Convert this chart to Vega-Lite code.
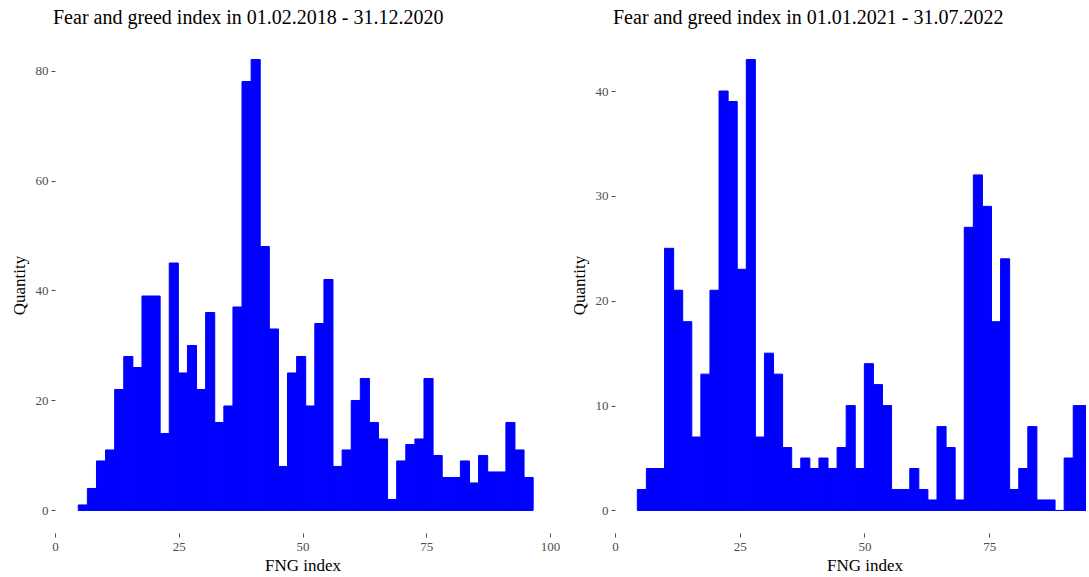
{
  "$schema": "https://vega.github.io/schema/vega-lite/v6.json",
  "background": "white",
  "padding": {"left": 10, "top": 8, "right": 0, "bottom": 0},
  "bounds": "flush",
  "spacing": 65,
  "config": {
    "view": {"stroke": null},
    "font": "Liberation Serif",
    "axis": {
      "domain": false,
      "grid": false,
      "ticks": true,
      "tickColor": "#4d4d4d",
      "tickSize": 4,
      "tickWidth": 1,
      "labelColor": "#4d4d4d",
      "labelFont": "Liberation Serif",
      "labelFontSize": 13,
      "labelFlush": false,
      "labelPadding": 3,
      "titleFont": "Liberation Serif",
      "titleFontSize": 17,
      "titleFontWeight": "normal",
      "titleColor": "black"
    },
    "axisY": {"titlePadding": 7},
    "title": {
      "font": "Liberation Serif",
      "fontSize": 20,
      "fontWeight": "normal",
      "color": "black",
      "anchor": "start",
      "frame": "group",
      "offset": 9,
      "dx": -2
    }
  },
  "datasets": {
    "early": [
      {"lo": 4.70, "hi": 6.54, "n": 1},
      {"lo": 6.54, "hi": 8.38, "n": 4},
      {"lo": 8.38, "hi": 10.21, "n": 9},
      {"lo": 10.21, "hi": 12.05, "n": 11},
      {"lo": 12.05, "hi": 13.89, "n": 22},
      {"lo": 13.89, "hi": 15.73, "n": 28},
      {"lo": 15.73, "hi": 17.57, "n": 26},
      {"lo": 17.57, "hi": 19.40, "n": 39},
      {"lo": 19.40, "hi": 21.24, "n": 39},
      {"lo": 21.24, "hi": 23.08, "n": 14},
      {"lo": 23.08, "hi": 24.92, "n": 45},
      {"lo": 24.92, "hi": 26.76, "n": 25},
      {"lo": 26.76, "hi": 28.59, "n": 30},
      {"lo": 28.59, "hi": 30.43, "n": 22},
      {"lo": 30.43, "hi": 32.27, "n": 36},
      {"lo": 32.27, "hi": 34.11, "n": 16},
      {"lo": 34.11, "hi": 35.95, "n": 19},
      {"lo": 35.95, "hi": 37.78, "n": 37},
      {"lo": 37.78, "hi": 39.62, "n": 78},
      {"lo": 39.62, "hi": 41.46, "n": 82},
      {"lo": 41.46, "hi": 43.30, "n": 48},
      {"lo": 43.30, "hi": 45.14, "n": 33},
      {"lo": 45.14, "hi": 46.97, "n": 8},
      {"lo": 46.97, "hi": 48.81, "n": 25},
      {"lo": 48.81, "hi": 50.65, "n": 28},
      {"lo": 50.65, "hi": 52.49, "n": 19},
      {"lo": 52.49, "hi": 54.33, "n": 34},
      {"lo": 54.33, "hi": 56.16, "n": 42},
      {"lo": 56.16, "hi": 58.00, "n": 8},
      {"lo": 58.00, "hi": 59.84, "n": 11},
      {"lo": 59.84, "hi": 61.68, "n": 20},
      {"lo": 61.68, "hi": 63.52, "n": 24},
      {"lo": 63.52, "hi": 65.35, "n": 16},
      {"lo": 65.35, "hi": 67.19, "n": 13},
      {"lo": 67.19, "hi": 69.03, "n": 2},
      {"lo": 69.03, "hi": 70.87, "n": 9},
      {"lo": 70.87, "hi": 72.71, "n": 12},
      {"lo": 72.71, "hi": 74.54, "n": 13},
      {"lo": 74.54, "hi": 76.38, "n": 24},
      {"lo": 76.38, "hi": 78.22, "n": 10},
      {"lo": 78.22, "hi": 80.06, "n": 6},
      {"lo": 80.06, "hi": 81.90, "n": 6},
      {"lo": 81.90, "hi": 83.73, "n": 9},
      {"lo": 83.73, "hi": 85.57, "n": 5},
      {"lo": 85.57, "hi": 87.41, "n": 10},
      {"lo": 87.41, "hi": 89.25, "n": 7},
      {"lo": 89.25, "hi": 91.09, "n": 7},
      {"lo": 91.09, "hi": 92.92, "n": 16},
      {"lo": 92.92, "hi": 94.76, "n": 11},
      {"lo": 94.76, "hi": 96.60, "n": 6}
    ],
    "late": [
      {"lo": 4.47, "hi": 6.29, "n": 2},
      {"lo": 6.29, "hi": 8.11, "n": 4},
      {"lo": 8.11, "hi": 9.93, "n": 4},
      {"lo": 9.93, "hi": 11.75, "n": 25},
      {"lo": 11.75, "hi": 13.57, "n": 21},
      {"lo": 13.57, "hi": 15.39, "n": 18},
      {"lo": 15.39, "hi": 17.21, "n": 7},
      {"lo": 17.21, "hi": 19.03, "n": 13},
      {"lo": 19.03, "hi": 20.85, "n": 21},
      {"lo": 20.85, "hi": 22.67, "n": 40},
      {"lo": 22.67, "hi": 24.49, "n": 39},
      {"lo": 24.49, "hi": 26.31, "n": 23},
      {"lo": 26.31, "hi": 28.13, "n": 43},
      {"lo": 28.13, "hi": 29.95, "n": 7},
      {"lo": 29.95, "hi": 31.77, "n": 15},
      {"lo": 31.77, "hi": 33.59, "n": 13},
      {"lo": 33.59, "hi": 35.41, "n": 6},
      {"lo": 35.41, "hi": 37.23, "n": 4},
      {"lo": 37.23, "hi": 39.05, "n": 5},
      {"lo": 39.05, "hi": 40.87, "n": 4},
      {"lo": 40.87, "hi": 42.69, "n": 5},
      {"lo": 42.69, "hi": 44.51, "n": 4},
      {"lo": 44.51, "hi": 46.33, "n": 6},
      {"lo": 46.33, "hi": 48.15, "n": 10},
      {"lo": 48.15, "hi": 49.97, "n": 4},
      {"lo": 49.97, "hi": 51.79, "n": 14},
      {"lo": 51.79, "hi": 53.61, "n": 12},
      {"lo": 53.61, "hi": 55.43, "n": 10},
      {"lo": 55.43, "hi": 57.25, "n": 2},
      {"lo": 57.25, "hi": 59.07, "n": 2},
      {"lo": 59.07, "hi": 60.89, "n": 4},
      {"lo": 60.89, "hi": 62.71, "n": 2},
      {"lo": 62.71, "hi": 64.53, "n": 1},
      {"lo": 64.53, "hi": 66.35, "n": 8},
      {"lo": 66.35, "hi": 68.17, "n": 6},
      {"lo": 68.17, "hi": 69.99, "n": 1},
      {"lo": 69.99, "hi": 71.81, "n": 27},
      {"lo": 71.81, "hi": 73.63, "n": 32},
      {"lo": 73.63, "hi": 75.45, "n": 29},
      {"lo": 75.45, "hi": 77.27, "n": 18},
      {"lo": 77.27, "hi": 79.09, "n": 24},
      {"lo": 79.09, "hi": 80.91, "n": 2},
      {"lo": 80.91, "hi": 82.73, "n": 4},
      {"lo": 82.73, "hi": 84.55, "n": 8},
      {"lo": 84.55, "hi": 86.37, "n": 1},
      {"lo": 86.37, "hi": 88.19, "n": 1},
      {"lo": 88.19, "hi": 90.01, "n": 0},
      {"lo": 90.01, "hi": 91.83, "n": 5},
      {"lo": 91.83, "hi": 93.65, "n": 10},
      {"lo": 93.65, "hi": 95.47, "n": 10}
    ]
  },
  "hconcat": [
    {
      "title": {"text": "Fear and greed index in 01.02.2018 - 31.12.2020"},
      "width": 495,
      "height": 496,
      "data": {"name": "early"},
      "mark": {"type": "bar", "color": "#0000ff", "stroke": "#0000ff", "strokeWidth": 1},
      "encoding": {
        "x": {
          "field": "lo", "type": "quantitative",
          "scale": {"domain": [0, 100], "nice": false, "zero": false},
          "axis": {"title": "FNG index", "values": [0, 25, 50, 75, 100]}
        },
        "x2": {"field": "hi"},
        "y": {
          "field": "n", "type": "quantitative",
          "scale": {"domain": [-4.1, 86.1], "nice": false, "zero": false},
          "axis": {"title": "Quantity", "values": [0, 20, 40, 60, 80]}
        },
        "y2": {"datum": 0}
      }
    },
    {
      "title": {"text": "Fear and greed index in 01.01.2021 - 31.07.2022"},
      "width": 471,
      "height": 496,
      "data": {"name": "late"},
      "mark": {"type": "bar", "color": "#0000ff", "stroke": "#0000ff", "strokeWidth": 1, "clip": true},
      "encoding": {
        "x": {
          "field": "lo", "type": "quantitative",
          "scale": {"domain": [0, 94.39], "nice": false, "zero": false},
          "axis": {"title": "FNG index", "values": [0, 25, 50, 75], "titleX": 249.5}
        },
        "x2": {"field": "hi"},
        "y": {
          "field": "n", "type": "quantitative",
          "scale": {"domain": [-2.15, 45.15], "nice": false, "zero": false},
          "axis": {"title": "Quantity", "values": [0, 10, 20, 30, 40]}
        },
        "y2": {"datum": 0}
      }
    }
  ]
}
